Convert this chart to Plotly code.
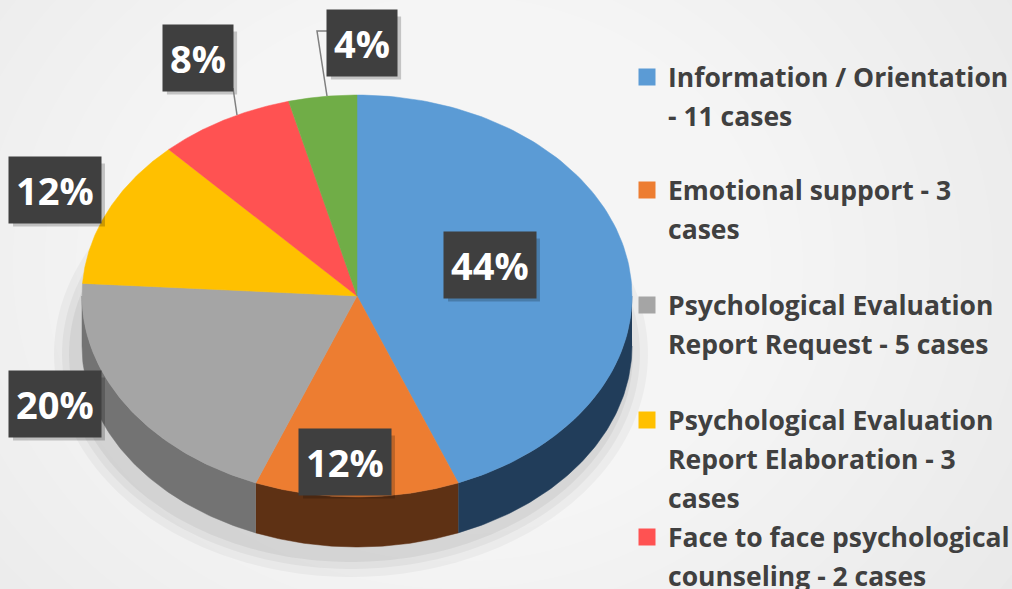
import numpy as np
import plotly.graph_objects as go

# ---------------- data ----------------
categories = [
    "Information / Orientation - 11 cases",
    "Emotional support - 3 cases",
    "Psychological Evaluation Report Request - 5 cases",
    "Psychological Evaluation Report Elaboration - 3 cases",
    "Face to face psychological counseling - 2 cases",
    "Other - 1 case",
]
legend_text = [
    "Information / Orientation<br>- 11 cases",
    "Emotional support - 3<br>cases",
    "Psychological Evaluation<br>Report Request - 5 cases",
    "Psychological Evaluation<br>Report Elaboration - 3<br>cases",
    "Face to face psychological<br>counseling - 2 cases",
    "Other - 1 case",
]
values = [11, 3, 5, 3, 2, 1]

# ---------------- styles / layout ----------------
top_colors = ["#5B9BD5", "#ED7D31", "#A5A5A5", "#FFC000", "#FF5252", "#70AD47"]
side_colors = ["#213D5A", "#5E3114", "#737373", "#7F6000", "#7F2828", "#38562A"]
W, H = 1012, 589
cx, cy, rx, ry, depth = 357, 296, 275, 201, 50
label_pos = [(490, 265), (345, 462), (55, 404), (55, 190), (198, 58), (362, 43)]
legend_y = [77, 190, 305, 420, 537, 652]
legend_x_sq, legend_x_txt, line_gap = 647, 666, 39
lab_size = 38

total = sum(values)
fracs = [v / total for v in values]
edges = np.concatenate([[0], np.cumsum(fracs)]) * 2 * np.pi


def ell(t, dy=0.0):
    return cx + rx * np.sin(t), cy - ry * np.cos(t) + dy


fig = go.Figure()

# soft shadow under the pie
for grow, alpha in [(22, 0.035), (14, 0.04), (7, 0.05)]:
    t = np.linspace(0, 2 * np.pi, 200)
    x = cx - 6 + (rx + grow) * np.sin(t)
    y = cy + depth + 8 - (ry + grow) * np.cos(t)
    fig.add_trace(go.Scatter(x=x, y=y, fill="toself", mode="none",
                             fillcolor=f"rgba(0,0,0,{alpha})", hoverinfo="skip", showlegend=False))

# side walls (front half only)
for i in range(len(values)):
    a0, a1 = max(edges[i], np.pi / 2), min(edges[i + 1], 3 * np.pi / 2)
    if a1 <= a0:
        continue
    t = np.linspace(a0, a1, 80)
    xt, yt = ell(t)
    xb, yb = ell(t[::-1], depth)
    fig.add_trace(go.Scatter(x=np.concatenate([xt, xb]), y=np.concatenate([yt, yb]),
                             fill="toself", mode="lines", line=dict(color=side_colors[i], width=0.5),
                             fillcolor=side_colors[i], hoverinfo="skip", showlegend=False))

# top faces
for i in range(len(values)):
    t = np.linspace(edges[i], edges[i + 1], 120)
    xt, yt = ell(t)
    fig.add_trace(go.Scatter(x=np.concatenate([[cx], xt, [cx]]), y=np.concatenate([[cy], yt, [cy]]),
                             fill="toself", mode="lines", line=dict(color=top_colors[i], width=0.5),
                             fillcolor=top_colors[i], name=categories[i],
                             hoverinfo="name", showlegend=False))

# legend squares
fig.add_trace(go.Scatter(x=[legend_x_sq] * len(values), y=legend_y, mode="markers",
                         marker=dict(symbol="square", size=17, color=top_colors),
                         hoverinfo="skip", showlegend=False))

annotations = []
shapes = []
# background radial gradient
for k in range(24):
    f = 1 - k / 24
    shapes.append(dict(type="circle", xref="paper", yref="paper", layer="below",
                       x0=0.45 - 0.75 * f, x1=0.45 + 0.75 * f, y0=0.55 - 1.1 * f, y1=0.55 + 1.1 * f,
                       fillcolor="rgba(255,255,255,0.09)", line=dict(width=0)))

# legend text
for i, txt in enumerate(legend_text):
    for j, line in enumerate(txt.split("<br>")):
        annotations.append(dict(x=legend_x_txt, y=legend_y[i] + j * line_gap, text=f"<b>{line}</b>",
                                xanchor="left", yanchor="middle", showarrow=False,
                                font=dict(family="Open Sans", size=26.5, color="#404040")))

# percentage labels with drop shadow
for i, v in enumerate(values):
    pct = f"{round(100 * v / total)}%"
    lx, ly = label_pos[i]
    nd = len(pct) - 1
    bw = (0.572 * nd + 0.907) * lab_size + 14
    bh = 63
    shapes.append(dict(type="rect", x0=lx - bw / 2 + 4, x1=lx + bw / 2 + 4, y0=ly - bh / 2 + 5,
                       y1=ly + bh / 2 + 5, fillcolor="rgba(0,0,0,0.2)", line=dict(width=0)))
    annotations.append(dict(x=lx, y=ly, text=f"<b>{pct}</b>", showarrow=False, xanchor="center",
                            yanchor="middle", bgcolor="#3F3F3F", borderpad=7,
                            font=dict(family="Open Sans", size=lab_size, color="white")))

# leader lines
shapes.append(dict(type="path", path="M 233,88 L 237,115", line=dict(color="#7F7F7F", width=1.5)))
shapes.append(dict(type="path", path="M 327,96 L 317,31 L 327,31", line=dict(color="#7F7F7F", width=1.5)))

fig.update_layout(
    width=W, height=H, margin=dict(l=0, r=0, t=0, b=0),
    paper_bgcolor="#E2E2E2", plot_bgcolor="rgba(0,0,0,0)",
    xaxis=dict(range=[0, W], visible=False, fixedrange=True),
    yaxis=dict(range=[H, 0], visible=False, fixedrange=True),
    annotations=annotations, shapes=shapes, showlegend=False,
)
fig.write_html("out.html", config={"displayModeBar": False},
               post_script="document.body.style.margin='0px';")
